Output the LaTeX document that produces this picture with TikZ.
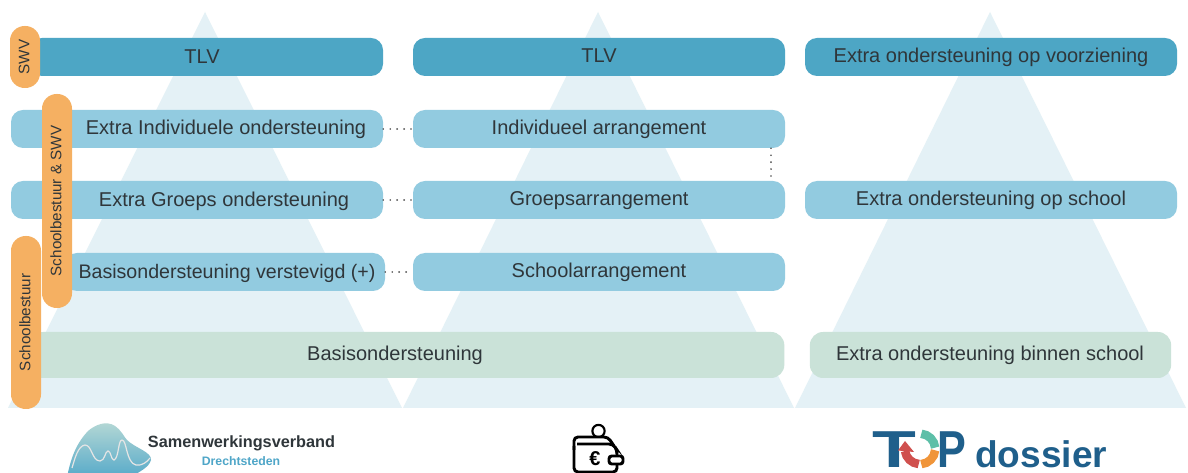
\documentclass[tikz,border=0pt]{standalone}
\usepackage{graphicx}
\usepackage{fontspec}
\setmainfont{Liberation Sans}
\definecolor{tri}{HTML}{E4F1F6}
\definecolor{darkbar}{HTML}{4DA6C5}
\definecolor{lightbar}{HTML}{92CBE0}
\definecolor{greenbar}{HTML}{CAE2D8}
\definecolor{pill}{HTML}{F5B062}
\definecolor{ink}{HTML}{2F363A}
\definecolor{topblue}{HTML}{1F5F8B}
\definecolor{topteal}{HTML}{5DBFA8}
\definecolor{topred}{HTML}{D0504E}
\definecolor{toporange}{HTML}{F0953A}
\definecolor{dred}{HTML}{4FA6C8}
\tikzset{
  x=0.75pt,y=-0.75pt,
  barbox/.style={inner sep=0pt,rounded corners=9pt,minimum height=28.5pt,text=ink,text height=10.8pt,text depth=1.8pt,font=\fontsize{15}{17}\selectfont},
  darkb/.style={barbox,fill=darkbar},
  lightb/.style={barbox,fill=lightbar},
  greenb/.style={barbox,fill=greenbar,rounded corners=10pt,minimum height=34.5pt},
  pillbox/.style={inner sep=0pt,rotate=90,fill=pill,rounded corners=11pt,minimum height=22.5pt,text=ink,text height=8.2pt,text depth=1.5pt,font=\fontsize{11.4}{13}\selectfont},
  barlabel/.style={inner sep=0pt,text=ink,text height=10.8pt,text depth=0pt,font=\fontsize{15}{17}\selectfont},
  dots/.style={draw=black!70,line width=1.4pt,line cap=round,dash pattern=on 0pt off 5.2pt},
  triangle/.style={fill=tri}
}
\begin{document}
\begin{tikzpicture}
\useasboundingbox (0,0) rectangle (1188,473);
\clip (0,0) rectangle (1188,473);
\fill[white] (0,0) rectangle (1188,473);
% triangles
\fill[triangle] (205,12) -- (402,408) -- (8,408) -- cycle;
\fill[triangle] (598,12) -- (794,408) -- (403,408) -- cycle;
\fill[triangle] (990,12) -- (1186,408) -- (795,408) -- cycle;
% bars
\node[darkb,minimum width=264.75pt] (tlva) at (206.5,57) {};
\node[barlabel] (tlvat) at (202,56.2) {TLV};
\node[darkb,minimum width=279pt] (tlvb) at (599,57) {TLV};
\node[darkb,minimum width=279pt] (voor) at (991,57) {Extra ondersteuning op voorziening};
\node[lightb,minimum width=279pt] (ind) at (197,129) {};
\node[barlabel] (indt) at (226,127.5) {Extra Individuele ondersteuning};
\node[lightb,minimum width=279pt] (iarr) at (599,129) {Individueel arrangement};
\node[lightb,minimum width=279pt] (grp) at (197,200) {};
\node[barlabel] (grpt) at (224,199) {Extra Groeps ondersteuning};
\node[lightb,minimum width=279pt] (garr) at (599,200) {Groepsarrangement};
\node[lightb,minimum width=279pt] (school) at (991,200) {Extra ondersteuning op school};
\node[lightb,minimum width=240pt] (bas) at (225,272) {};
\node[barlabel,font=\fontsize{14.7}{17}\selectfont] (bast) at (227,271) {Basisondersteuning verstevigd (+)};
\node[lightb,minimum width=279pt] (sarr) at (599,272) {Schoolarrangement};
\node[greenb,minimum width=566pt] (basis) at (407,355) {};
\node[barlabel] (basist) at (395,353) {Basisondersteuning};
\node[greenb,minimum width=271pt] (binnen) at (990.5,355) {};
\node[barlabel] (binnent) at (990,353) {Extra ondersteuning binnen school};
% pills
\node[pillbox,minimum width=46.5pt] (swv) at (25,57) {SWV};
\node[pillbox,minimum width=160.5pt] (sbswv) at (57,201) {Schoolbestuur \& SWV};
\node[pillbox,minimum width=129.75pt] (sb) at (26,322.5) {Schoolbestuur};
% dotted links
\coordinate (vx) at (771,0);
\draw[dots] (ind.east) -- (iarr.west);
\draw[dots] (grp.east) -- (garr.west);
\draw[dots] (bas.east) -- (sarr.west);
\draw[dots] (iarr.south -| vx) -- (garr.north -| vx);
% logo left
\shade[top color=greenbar!85!darkbar,bottom color=dred]
  (66,482) .. controls (70,462) and (74,446) .. (88,431)
  .. controls (95,425) and (106,420) .. (115,426)
  .. controls (122,431) and (124,437) .. (127,440)
  .. controls (135,448) and (152,452) .. (151,460)
  .. controls (149,468) and (138,472) .. (130,478) -- cycle;
\draw[white!80!gray,line width=0.9pt] (72,468) .. controls (75,458) and (78,446) .. (85,445)
  .. controls (92,445) and (92,461) .. (100,461)
  .. controls (105,461) and (105,451) .. (108,451)
  .. controls (111,451) and (111,460) .. (114,460)
  .. controls (119,458) and (118,440) .. (122,440)
  .. controls (127,440) and (126,463) .. (136,465)
  .. controls (142,466) and (147,462) .. (150,458);
\node[inner sep=0pt,text=ink,text height=9pt,text depth=0pt,font=\bfseries\fontsize{12.2}{14}\selectfont] (sam) at (241.5,442) {Samenwerkingsverband};
\node[inner sep=0pt,text=dred,text height=6.8pt,text depth=0pt,font=\bfseries\fontsize{9.2}{11}\selectfont] (dre) at (241,461) {Drechtsteden};
% wallet
\draw[black,line width=1.6pt] (598.5,431) circle[radius=4.6pt];
\fill[white] (575,437) rectangle (612,444);
\draw[black,line width=2.2pt,rounded corners=3pt] (574,450) -- (574,437) -- (608,437) -- (614,446);
\draw[black,line width=2.2pt,rounded corners=3pt] (577,444) -- (613,444) -- (617,450) -- (617,456);
\draw[black,line width=2.2pt,rounded corners=3pt] (617,464) -- (617,472) -- (574,472) -- (574,446);
\draw[black,line width=2.2pt,rounded corners=2pt,fill=white] (609,456) rectangle (623,464);
\node[inner sep=0pt,text=black,font=\bfseries\fontsize{15}{17}\selectfont] (euro) at (595,459) {€};
% TOP dossier
\node[inner sep=0pt,anchor=base,text=topblue,font=\bfseries\fontsize{39}{44}\selectfont] (topt) at (894,467) {\scalebox{1.38}[1]{T}};
\node[inner sep=0pt,anchor=base west,text=topblue,font=\bfseries\fontsize{39}{44}\selectfont] (topp) at (937,467) {\scalebox{0.83}[1]{P}};
\draw[topteal,line width=6.4pt] (921.3,433.8) arc[start angle=85,end angle=5,radius=11.4pt];
\draw[toporange,line width=6.4pt] (935.1,450.3) arc[start angle=-5,end angle=-85,radius=11.4pt];
\draw[topred,line width=6.4pt] (905,451) arc[start angle=188,end angle=265,radius=11.4pt];
\fill[topred] (905,441) -- (914,452) -- (898,450.5) -- cycle;
\node[inner sep=0pt,anchor=base west,text=topblue,font=\bfseries\fontsize{27.8}{32}\selectfont] (dos) at (975,467) {dossier};
\end{tikzpicture}
\end{document}
